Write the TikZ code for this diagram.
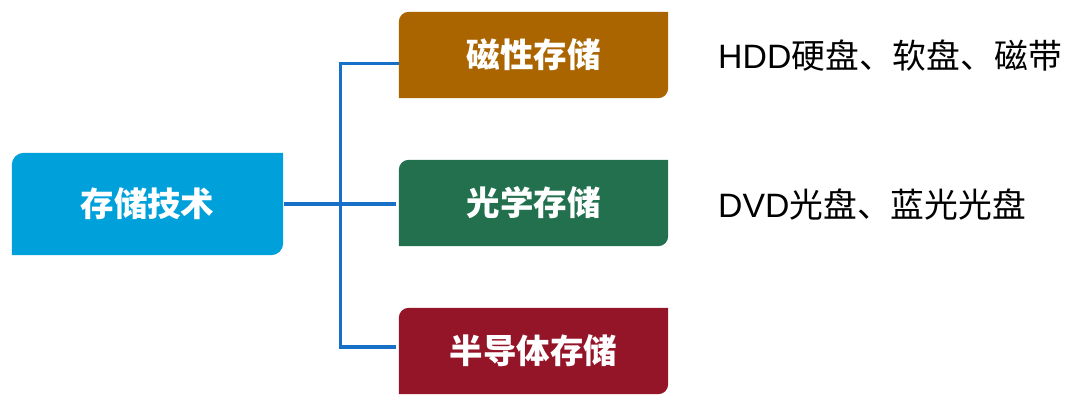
\documentclass[tikz,border=0pt]{standalone}
\usepackage{fontspec}
\newfontfamily\cjk{Noto Sans CJK SC}
\newfontfamily\latin{Liberation Sans}
\usetikzlibrary{backgrounds}
\definecolor{techblue}{RGB}{0,160,218}
\definecolor{magbrown}{RGB}{171,101,0}
\definecolor{optgreen}{RGB}{34,112,78}
\definecolor{semired}{RGB}{149,21,40}
\definecolor{linkblue}{RGB}{22,112,200}
\tikzset{
  topic/.style={minimum width=271pt,minimum height=102pt,inner sep=0pt,text=white,
    font=\cjk\bfseries\fontsize{33.5}{33.5}\selectfont},
  branch/.style={topic,minimum width=269pt,minimum height=86pt},
  example/.style={anchor=west,inner sep=0pt,font=\fontsize{33.8}{33.8}\selectfont},
  link/.style={draw=linkblue,line width=3.8pt}
}
% fill with the top left and bottom right corners rounded
\newcommand{\cardfill}[3]{%
  \fill[#2] (#1.south west) -- ([yshift=-#3]#1.north west)
    arc[start angle=180,end angle=90,radius=#3] -- (#1.north east)
    -- ([yshift=#3]#1.south east)
    arc[start angle=0,end angle=-90,radius=#3] -- cycle;}
\begin{document}
\begin{tikzpicture}[x=1pt,y=-1pt]
\useasboundingbox (0,0) rectangle (1080,406);
\node[topic] (tech) at (147.5,204) {存储技术};
\node[branch] (mag) at (533.5,55) {磁性存储};
\node[branch] (opt) at (533.5,203) {光学存储};
\node[branch] (semi) at (533.5,351) {半导体存储};
\begin{pgfonlayer}{background}
\cardfill{tech}{techblue}{12pt}
\cardfill{mag}{magbrown}{10pt}
\cardfill{opt}{optgreen}{10pt}
\cardfill{semi}{semired}{10pt}
\end{pgfonlayer}
\node[example] (magex) at (718,56) {{\latin HDD}{\cjk 硬盘、软盘、磁带}};
\node[example] (optex) at (718,204) {{\latin DVD}{\cjk 光盘、蓝光光盘}};
\coordinate (fork) at (340.5,204);
\coordinate (top) at (340.5,63.5);
\coordinate (bottom) at (340.5,347);
\draw[link,shorten <=1pt] (tech.east) -- (fork);
\draw[link,shorten >=3pt] (mag.west |- top) -- (top) -- (bottom) -- (semi.west |- bottom);
\draw[link,shorten >=3pt] (fork) -- (opt.west |- fork);
\end{tikzpicture}
\end{document}
